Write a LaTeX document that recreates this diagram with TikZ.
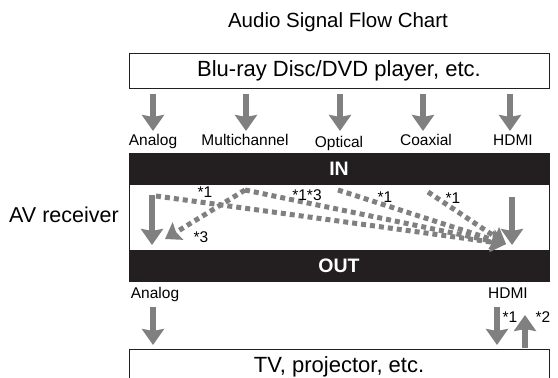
\documentclass[tikz,border=0pt]{standalone}
\usepackage{fontspec}
\setmainfont{Liberation Sans}
\usetikzlibrary{arrows.meta}
\definecolor{garr}{HTML}{808080}
\definecolor{barc}{HTML}{231F20}
\begin{document}
\begin{tikzpicture}[x=1pt,y=-1pt,
  garrow/.style={draw=garr, line width=6pt, -{Stealth[length=16pt,width=22pt,inset=2pt]}},
  darrow/.style={draw=garr, line width=5pt, dash pattern=on 5pt off 4pt, -{Stealth[length=15pt,width=20pt,inset=2pt]}},
  big/.style={font=\fontsize{20.5}{24}\selectfont},
  lbl/.style={font=\fontsize{15.5}{18}\selectfont, anchor=base},
  star/.style={font=\fontsize{15.5}{18}\selectfont, inner sep=0pt},
  boxn/.style={draw=barc, line width=1pt, minimum width=420pt, minimum height=35pt, inner sep=0pt, font=\fontsize{22}{26}\selectfont},
  barn/.style={fill=barc, minimum width=420pt, inner sep=0pt, text=white, font=\fontsize{19.5}{22}\selectfont\bfseries}
]
\useasboundingbox (0,0) rectangle (558,378);
\clip (0,0) rectangle (558,378);
\fill[white] (0,0) rectangle (558,378);

\node[big] (title) at (338,22) {Audio Signal Flow Chart};
\node[boxn] (src) at (339,70.5) {Blu-ray Disc/DVD player, etc.};

% receiver
\draw[barc, line width=0.8pt] (129,153) rectangle (549,281);
\node[barn, minimum height=32pt] (in) at (339,169) {IN};
\node[barn, minimum height=31pt] (out) at (339,265.5) {OUT};
\node[font=\fontsize{21.5}{25}\selectfont] (avr) at (64,215) {AV receiver};

% input labels
\node[lbl] (lan) at (153,145) {Analog};
\node[lbl] (lmc) at (245,145) {Multichannel};
\node[lbl] (lop) at (339,147) {Optical};
\node[lbl] (lco) at (426,145) {Coaxial};
\node[lbl] (lhd) at (513,145) {HDMI};

% input arrows
\foreach \x/\n in {153/a,246/b,340/c,423/d,510/e}{
  \coordinate (t\n s) at (\x,94);
  \coordinate (t\n e) at (\x,131);
  \draw[garrow] (t\n s) -- (t\n e);
}

% inner vertical arrows
\coordinate (ils) at (152,195);
\coordinate (ile) at (152,245);
\coordinate (irs) at (512,197);
\coordinate (ire) at (512,245);
\draw[garrow] (ils) -- (ile);
\draw[garrow] (irs) -- (ire);

% dashed routes
\coordinate (hdtip) at (506,244);
\coordinate (anS) at (156,196);
\coordinate (mcP) at (245,190);
\coordinate (mcL) at (165,239);
\coordinate (opS) at (338,190);
\coordinate (coS) at (428,192);
\draw[darrow] (anS) -- (hdtip);
\draw[darrow] (mcP) -- (hdtip);
\draw[darrow] (mcP) -- (mcL);
\draw[darrow] (opS) -- (hdtip);
\draw[darrow] (coS) -- (hdtip);

\node[star] (s1) at (205,192) {*1};
\node[star] (s2) at (307,195) {*1*3};
\node[star] (s3) at (385,197) {*1};
\node[star] (s4) at (453,198) {*1};
\node[star] (s5) at (201,237) {*3};

% outputs
\node[lbl] (oan) at (155,298) {Analog};
\node[lbl] (ohd) at (508,298) {HDMI};
\coordinate (oas) at (153,307);
\coordinate (oae) at (153,345);
\coordinate (ohs) at (497,307);
\coordinate (ohe) at (497,345);
\coordinate (ous) at (525,348);
\coordinate (oue) at (525,315);
\draw[garrow] (oas) -- (oae);
\draw[garrow] (ohs) -- (ohe);
\draw[garrow] (ous) -- (oue);
\node[star] (s6) at (510,317) {*1};
\node[star] (s7) at (543,317) {*2};

\node[boxn] (dst) at (339,366.5) {TV, projector, etc.};
\end{tikzpicture}
\end{document}
